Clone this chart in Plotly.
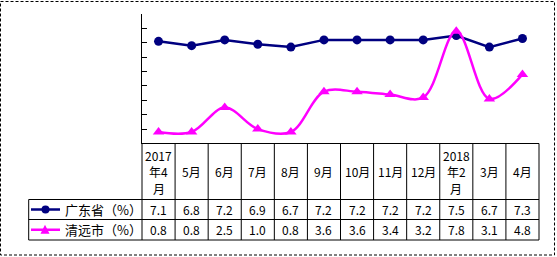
import plotly.graph_objects as go

months = ["2017\n年4\n月", "5月", "6月", "7月", "8月", "9月", "10月", "11月", "12月", "2018\n年2\n月", "3月", "4月"]
gd_name = "广东省（%）"
qy_name = "清远市（%）"
guangdong = [7.1, 6.8, 7.2, 6.9, 6.7, 7.2, 7.2, 7.2, 7.2, 7.5, 6.7, 7.3]
qingyuan = [0.8, 0.8, 2.5, 1.0, 0.8, 3.6, 3.6, 3.4, 3.2, 7.8, 3.1, 4.8]

W, H = 557, 257
X0, X1 = 142, 539      # plot/table left-right
YT, YB = 14, 143.5     # plot top/bottom
HEAD_B, R1_B, R2_B = 199.5, 219.5, 240
LEG_L = 28.7
NAVY = "#000080"
MAG = "#FF00FF"
FONT = "Noto Sans CJK SC"
LINE_STEP = 16.5

def px(x):
    return x / W

def py(y):
    return 1 - y / H

n = len(months)
xs = list(range(n))

fig = go.Figure()
fig.add_trace(go.Scatter(x=xs, y=guangdong, mode="lines+markers", line=dict(color=NAVY, width=2.5),
                         marker=dict(symbol="circle", size=9, color=NAVY), showlegend=False))
fig.add_trace(go.Scatter(x=xs, y=qingyuan, mode="lines+markers", line=dict(color=MAG, width=2.5, shape="spline", smoothing=1),
                         marker=dict(symbol="triangle-up", size=10, color=MAG), showlegend=False))

shapes = []
annotations = []
colw = (X1 - X0) / n

def hline(y, xa, xb):
    shapes.append(dict(type="line", xref="paper", yref="paper", x0=px(xa), x1=px(xb), y0=py(y), y1=py(y),
                       line=dict(color="black", width=1)))

def vline(x, ya, yb):
    shapes.append(dict(type="line", xref="paper", yref="paper", x0=px(x), x1=px(x), y0=py(ya), y1=py(yb),
                       line=dict(color="black", width=1)))

def text(t, x, y, size=12, anchor="center"):
    annotations.append(dict(text=t, x=px(x), y=py(y), xref="paper", yref="paper", showarrow=False,
                            xanchor=anchor, yanchor="middle", font=dict(family=FONT, size=size, color="black")))

hline(YB, X0, X1)
hline(HEAD_B, LEG_L, X1)
hline(R1_B, LEG_L, X1)
hline(R2_B, LEG_L, X1)
vline(LEG_L, HEAD_B, R2_B)
for i in range(n + 1):
    vline(X0 + i * colw, YB, R2_B)

hc = (YB + HEAD_B) / 2
for i, m in enumerate(months):
    xc = X0 + (i + 0.5) * colw
    parts = m.split("\n")
    k = len(parts)
    for j, p in enumerate(parts):
        text(p, xc, hc + (j - (k - 1) / 2) * LINE_STEP, size=12)
    text(f"{guangdong[i]:.1f}", xc, (HEAD_B + R1_B) / 2, size=12)
    text(f"{qingyuan[i]:.1f}", xc, (R1_B + R2_B) / 2, size=12)

# legend keys inside the table
for name, color, sym, yc in [(gd_name, NAVY, "circle", (HEAD_B + R1_B) / 2), (qy_name, MAG, "triangle", (R1_B + R2_B) / 2)]:
    shapes.append(dict(type="line", xref="paper", yref="paper", x0=px(31), x1=px(60), y0=py(yc), y1=py(yc),
                       line=dict(color=color, width=2.5)))
    if sym == "circle":
        shapes.append(dict(type="circle", xref="paper", yref="paper", x0=px(41.5), x1=px(49.5), y0=py(yc - 4), y1=py(yc + 4),
                           fillcolor=color, line=dict(color=color, width=0)))
    else:
        path = f"M {px(40.5)} {py(yc + 4)} L {px(49.5)} {py(yc + 4)} L {px(45)} {py(yc - 5)} Z"
        shapes.append(dict(type="path", xref="paper", yref="paper", path=path, fillcolor=color, line=dict(color=color, width=0)))
    text(name, 63, yc, size=13, anchor="left")

# dashed outer border
shapes.append(dict(type="rect", xref="paper", yref="paper", x0=px(0.5), x1=px(554.5), y0=py(1.5), y1=py(255),
                   line=dict(color="black", width=1, dash="3px,2px")))

fig.update_layout(
    width=W, height=H, margin=dict(l=0, r=0, t=0, b=0),
    paper_bgcolor="white", plot_bgcolor="white",
    xaxis=dict(domain=[px(X0), px(X1)], range=[-0.5, n - 0.5], showgrid=False, zeroline=False,
               showticklabels=False, ticks="", showline=False),
    yaxis=dict(domain=[py(YB), py(YT)], range=[0, 9], dtick=1, tick0=0, showgrid=False, zeroline=False,
               showticklabels=False, ticks="inside", ticklen=5, tickcolor="black", showline=True,
               linecolor="black", linewidth=1),
    shapes=shapes, annotations=annotations,
)

fig.write_html("out.html")
